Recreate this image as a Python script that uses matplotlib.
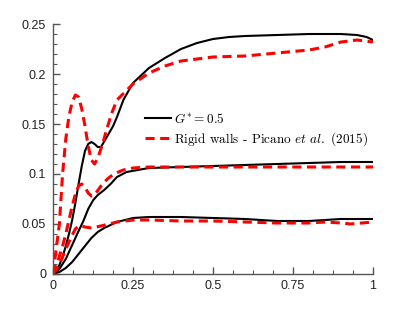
import matplotlib
matplotlib.use("Agg")
import matplotlib.pyplot as plt
from matplotlib.ticker import MultipleLocator

plt.rcParams['mathtext.fontset'] = 'cm'
plt.rcParams['font.family'] = ['Liberation Sans', 'DejaVu Sans']

# black solid: G* = 0.5 (three curves)
x_b1 = [0, 0.01, 0.02, 0.03, 0.04, 0.05, 0.06, 0.07, 0.08, 0.09, 0.1, 0.11, 0.12, 0.13, 0.14, 0.15,
        0.17, 0.188, 0.2, 0.22, 0.25, 0.3, 0.35, 0.4, 0.45, 0.5, 0.55, 0.6, 0.7, 0.8, 0.9, 0.95, 0.98, 1.0]
y_b1 = [0, 0.003, 0.009, 0.017, 0.028, 0.04, 0.054, 0.071, 0.09, 0.108, 0.123, 0.13, 0.132, 0.13, 0.127, 0.127,
        0.138, 0.148, 0.157, 0.174, 0.191, 0.206, 0.216, 0.225, 0.231, 0.235, 0.237, 0.238, 0.239, 0.24, 0.24, 0.239, 0.237, 0.234]

x_b2 = [0, 0.02, 0.04, 0.06, 0.08, 0.095, 0.11, 0.126, 0.14, 0.16, 0.18, 0.2, 0.23, 0.3, 0.4, 0.5, 0.6, 0.7, 0.8, 0.9, 1.0]
y_b2 = [0, 0.005, 0.015, 0.029, 0.043, 0.053, 0.065, 0.074, 0.079, 0.084, 0.09, 0.097, 0.102, 0.106, 0.107, 0.108, 0.109, 0.11, 0.111, 0.112, 0.112]

x_b3 = [0, 0.02, 0.04, 0.06, 0.08, 0.1, 0.12, 0.14, 0.16, 0.2, 0.25, 0.3, 0.4, 0.5, 0.6, 0.7, 0.75, 0.8, 0.85, 0.9, 0.95, 1.0]
y_b3 = [0, 0.002, 0.006, 0.012, 0.02, 0.028, 0.036, 0.042, 0.046, 0.052, 0.056, 0.057, 0.057, 0.056, 0.055, 0.053, 0.053, 0.053, 0.054, 0.055, 0.055, 0.055]

# red dashed: rigid walls, Picano et al. (2015)
x_r1 = [0, 0.005, 0.01, 0.02, 0.03, 0.04, 0.05, 0.06, 0.07, 0.08, 0.09, 0.1, 0.11, 0.12, 0.13, 0.14,
        0.155, 0.17, 0.185, 0.2, 0.25, 0.3, 0.35, 0.4, 0.5, 0.6, 0.7, 0.8, 0.85, 0.9, 0.95, 1.0]
y_r1 = [0, 0.012, 0.025, 0.05, 0.1, 0.135, 0.158, 0.172, 0.179, 0.177, 0.165, 0.148, 0.128, 0.114, 0.11, 0.116,
        0.13, 0.147, 0.162, 0.174, 0.19, 0.201, 0.208, 0.213, 0.217, 0.218, 0.221, 0.224, 0.227, 0.232, 0.234, 0.232]

x_r2 = [0, 0.01, 0.02, 0.03, 0.04, 0.05, 0.06, 0.07, 0.08, 0.09, 0.1, 0.11, 0.12, 0.13, 0.15, 0.17, 0.19,
        0.22, 0.25, 0.3, 0.4, 0.5, 0.6, 0.7, 0.8, 0.9, 1.0]
y_r2 = [0, 0.008, 0.018, 0.028, 0.04, 0.054, 0.068, 0.08, 0.088, 0.09, 0.087, 0.081, 0.078, 0.079, 0.088, 0.095, 0.1,
        0.104, 0.106, 0.107, 0.107, 0.107, 0.107, 0.107, 0.107, 0.107, 0.107]

x_r3 = [0, 0.01, 0.02, 0.03, 0.04, 0.05, 0.06, 0.07, 0.08, 0.09, 0.1, 0.12, 0.15, 0.2, 0.25, 0.3, 0.4,
        0.5, 0.6, 0.7, 0.8, 0.85, 0.9, 0.93, 1.0]
y_r3 = [0, 0.004, 0.01, 0.017, 0.025, 0.032, 0.039, 0.045, 0.048, 0.048, 0.047, 0.046, 0.048, 0.052, 0.054, 0.054, 0.053,
        0.053, 0.052, 0.051, 0.051, 0.052, 0.051, 0.05, 0.052]

x_ticks = [0, 0.25, 0.5, 0.75, 1]
x_ticklabels = ['0', '0.25', '0.5', '0.75', '1']
y_ticks = [0, 0.05, 0.1, 0.15, 0.2, 0.25]
y_ticklabels = ['0', '0.05', '0.1', '0.15', '0.2', '0.25']

label_black = r'$G^{*} = 0.5$'
label_red = r'Rigid walls - Picano $\mathit{et\ al.}$ (2015)'

fig = plt.figure(figsize=(4.12, 3.09), dpi=100)
ax = fig.add_axes([0.1286, 0.1133, 0.7767, 0.809])

ax.plot(x_b1, y_b1, color='black', lw=1.5, label=label_black)
ax.plot(x_b2, y_b2, color='black', lw=1.5)
ax.plot(x_b3, y_b3, color='black', lw=1.5)
red_kw = dict(color='red', lw=2.2, linestyle=(0, (3, 1.8)))
ax.plot(x_r1, y_r1, label=label_red, **red_kw)
ax.plot(x_r2, y_r2, **red_kw)
ax.plot(x_r3, y_r3, **red_kw)

ax.set_xlim(0, 1)
ax.set_ylim(0, 0.25)
ax.set_xticks(x_ticks)
ax.set_xticklabels(x_ticklabels)
ax.set_yticks(y_ticks)
ax.set_yticklabels(y_ticklabels)
ax.xaxis.set_minor_locator(MultipleLocator(0.0625))
ax.yaxis.set_minor_locator(MultipleLocator(0.01))

for s in ['top', 'right']:
    ax.spines[s].set_visible(False)
for s in ['left', 'bottom']:
    ax.spines[s].set_color('#555555')
    ax.spines[s].set_linewidth(1.0)
ax.tick_params(which='major', direction='in', length=5, width=1, color='#555555',
               labelcolor='#222222', labelsize=9, pad=4)
ax.tick_params(axis='y', which='major', pad=5)
ax.tick_params(which='minor', direction='in', length=3, width=0.8, color='#555555')

leg = ax.legend(loc='upper left', bbox_to_anchor=(0.27, 0.67), frameon=False,
                handlelength=2.0, handletextpad=0.2, labelspacing=0.3, borderaxespad=0,
                prop={'family': 'cmr10', 'size': 9.5})

fig.savefig('out.png', dpi=100)
